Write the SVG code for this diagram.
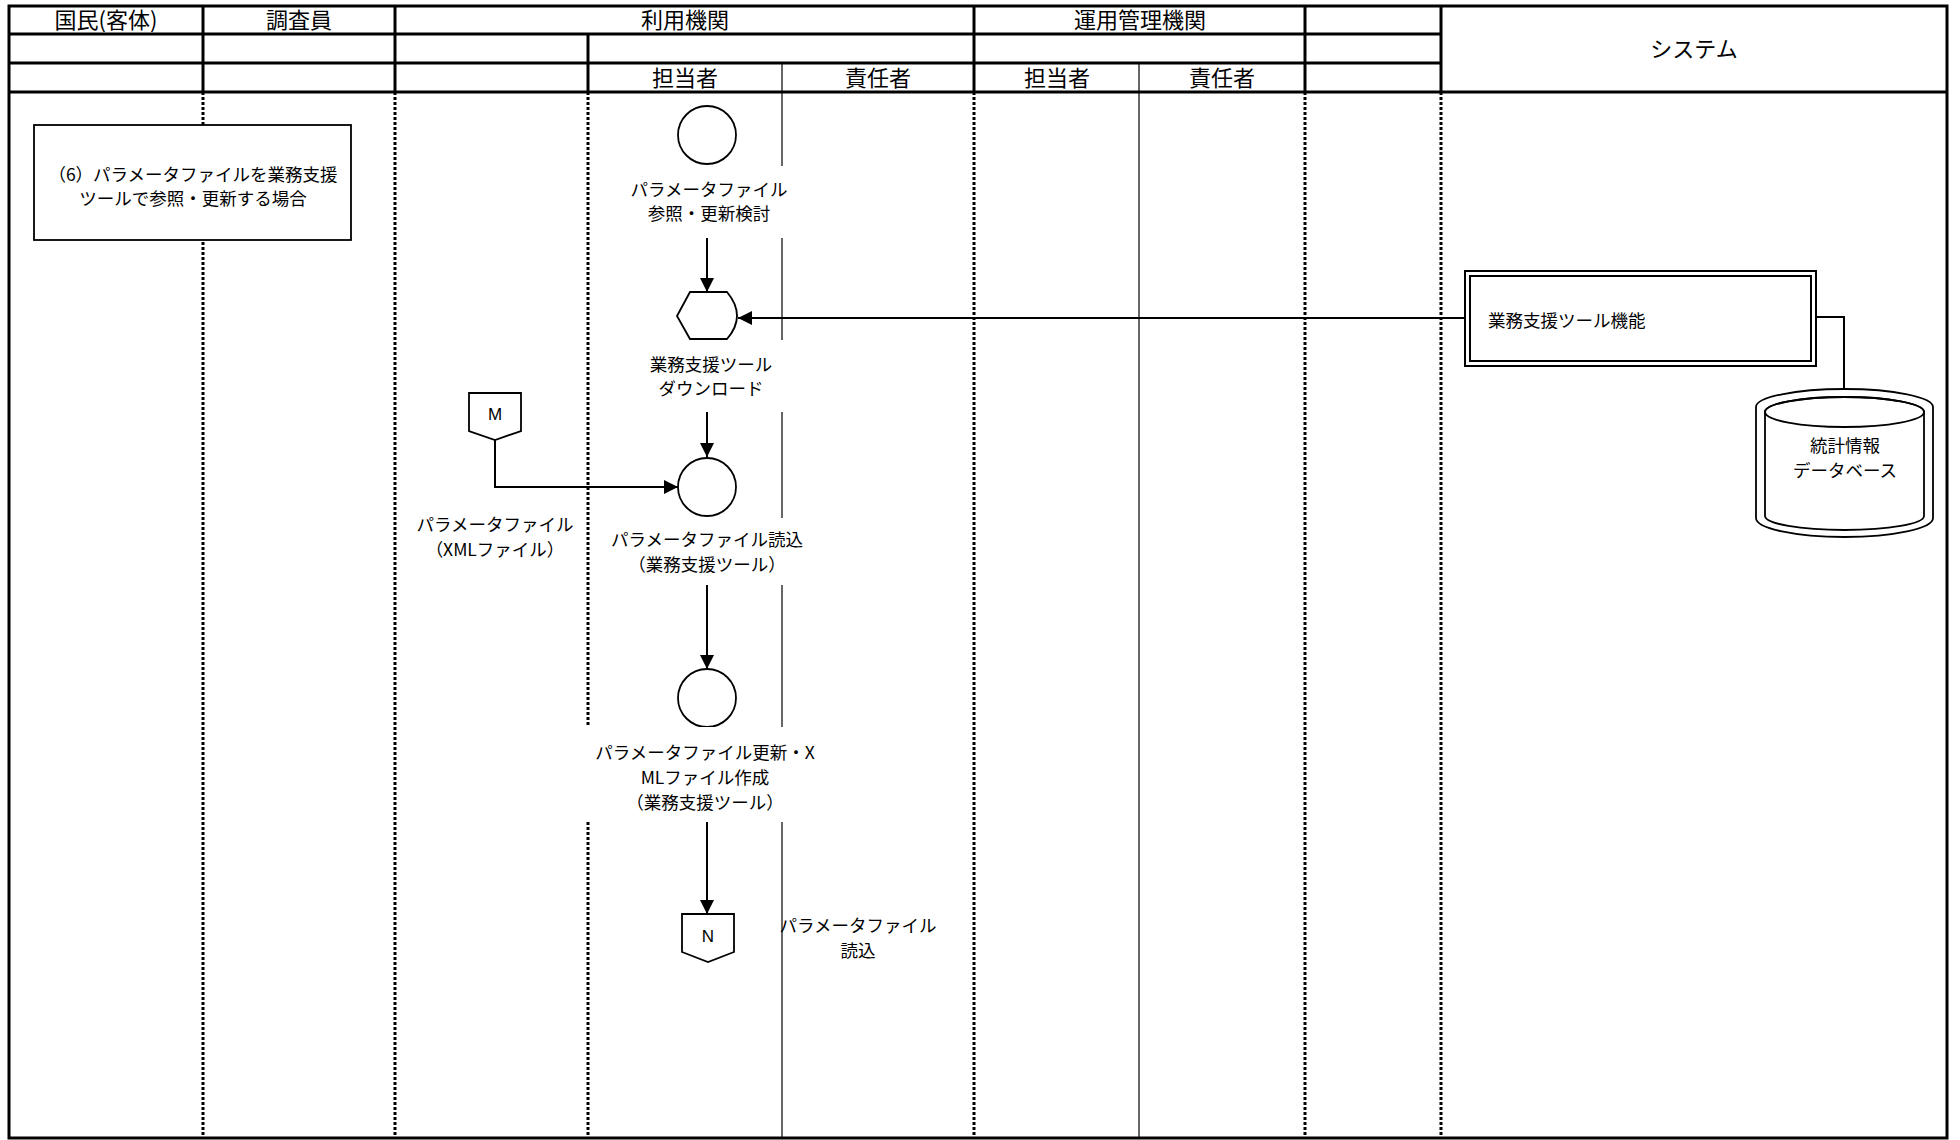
<svg xmlns="http://www.w3.org/2000/svg" width="1960" height="1140" viewBox="0 0 1960 1140">
<style>
  .jp { font-family: "Noto Sans CJK JP", "Noto Sans", sans-serif; fill: #000; }
  .hd { font-size: 22px; text-anchor: middle; }
  .lb { font-size: 17.5px; text-anchor: middle; }
  .lt { font-size: 17.5px; }
  .en { font-family: "Liberation Sans", Arial, sans-serif; font-size: 17px; text-anchor: middle; fill: #000; }
  .thick { stroke: #000; stroke-width: 3; fill: none; }
  .thin { stroke: #000; stroke-width: 1.2; fill: none; }
  .dot { stroke: #000; stroke-width: 3; stroke-dasharray: 3 2; fill: none; }
  .shape { stroke: #000; stroke-width: 1.8; fill: #fff; }
  .conn { stroke: #000; stroke-width: 2; fill: none; }
  .bg { fill: #fff; stroke: none; }
</style>
<defs>
  <marker id="arr" markerUnits="userSpaceOnUse" markerWidth="15" markerHeight="15" refX="14" refY="7" orient="auto">
    <path d="M0,0 L14,7 L0,14 Z" fill="#000"/>
  </marker>
</defs>
<rect x="0" y="0" width="1960" height="1140" fill="#fff"/>

<g id="lanes">
  <line class="dot" x1="203" y1="92" x2="203" y2="1137"/>
  <line class="dot" x1="395" y1="92" x2="395" y2="1137"/>
  <line class="dot" x1="588" y1="92" x2="588" y2="1137"/>
  <line class="thin" x1="782" y1="92" x2="782" y2="1137"/>
  <line class="dot" x1="974" y1="92" x2="974" y2="1137"/>
  <line class="thin" x1="1139" y1="92" x2="1139" y2="1137"/>
  <line class="dot" x1="1305" y1="92" x2="1305" y2="1137"/>
  <line class="dot" x1="1441" y1="92" x2="1441" y2="1137"/>
</g>

<g id="header">
  <line class="thick" x1="9" y1="34" x2="1441" y2="34"/>
  <line class="thick" x1="9" y1="63" x2="1441" y2="63"/>
  <line class="thick" x1="9" y1="92" x2="1947" y2="92"/>
  <line class="thick" x1="203" y1="6" x2="203" y2="92"/>
  <line class="thick" x1="395" y1="6" x2="395" y2="92"/>
  <line class="thick" x1="588" y1="34" x2="588" y2="92"/>
  <line class="thin" x1="782" y1="63" x2="782" y2="92"/>
  <line class="thick" x1="974" y1="6" x2="974" y2="92"/>
  <line class="thin" x1="1139" y1="63" x2="1139" y2="92"/>
  <line class="thick" x1="1305" y1="6" x2="1305" y2="92"/>
  <line class="thick" x1="1441" y1="6" x2="1441" y2="92"/>
  <text class="jp hd" x="106" y="28">国民(客体)</text>
  <text class="jp hd" x="299" y="28">調査員</text>
  <text class="jp hd" x="685" y="28">利用機関</text>
  <text class="jp hd" x="1140" y="28">運用管理機関</text>
  <text class="jp hd" x="685" y="86">担当者</text>
  <text class="jp hd" x="878" y="86">責任者</text>
  <text class="jp hd" x="1057" y="86">担当者</text>
  <text class="jp hd" x="1222" y="86">責任者</text>
  <text class="jp hd" x="1694" y="57">システム</text>
</g>

<rect class="thick" x="9" y="6" width="1938" height="1132"/>

<g id="connectors">
  <line class="conn" x1="707" y1="238" x2="707" y2="292" marker-end="url(#arr)"/>
  <line class="conn" x1="1465" y1="318" x2="738" y2="318" marker-end="url(#arr)"/>
  <line class="conn" x1="707" y1="412" x2="707" y2="457" marker-end="url(#arr)"/>
  <path class="conn" d="M495,440 V487 H678" marker-end="url(#arr)"/>
  <line class="conn" x1="707" y1="585" x2="707" y2="669" marker-end="url(#arr)"/>
  <line class="conn" x1="707" y1="822" x2="707" y2="914" marker-end="url(#arr)"/>
  <path class="conn" d="M1816,317 H1844 V397"/>
</g>

<g id="title">
  <rect x="34" y="125" width="317" height="115" fill="#fff" stroke="#000" stroke-width="1.8"/>
  <text class="jp lb" x="193" y="181">（6）パラメータファイルを業務支援</text>
  <text class="jp lb" x="193" y="205">ツールで参照・更新する場合</text>
</g>

<g id="step1">
  <circle class="shape" cx="707" cy="135" r="29"/>
  <rect class="bg" x="630" y="166" width="160" height="72"/>
  <text class="jp lb" x="709" y="196">パラメータファイル</text>
  <text class="jp lb" x="709" y="220">参照・更新検討</text>
</g>

<g id="step2">
  <path class="shape" d="M677,316 L690,292 L727,292 Q747,316 727,339 L690,339 Z"/>
  <rect class="bg" x="630" y="340" width="160" height="72"/>
  <text class="jp lb" x="711" y="371">業務支援ツール</text>
  <text class="jp lb" x="711" y="395">ダウンロード</text>
</g>

<g id="connectorM">
  <path class="shape" d="M469,393 H521 V431 L495,440 L469,431 Z"/>
  <text class="en" x="495" y="420">M</text>
  <text class="jp lb" x="495" y="531">パラメータファイル</text>
  <text class="jp lb" x="495" y="556">（XMLファイル）</text>
</g>

<g id="step3">
  <circle class="shape" cx="707" cy="487" r="29"/>
  <rect class="bg" x="600" y="518" width="210" height="67"/>
  <text class="jp lb" x="707" y="546">パラメータファイル読込</text>
  <text class="jp lb" x="707" y="571">（業務支援ツール）</text>
</g>

<g id="step4">
  <circle class="shape" cx="707" cy="698" r="29"/>
  <rect class="bg" x="585" y="727" width="240" height="95"/>
  <text class="jp lb" x="705" y="759">パラメータファイル更新・X</text>
  <text class="jp lb" x="705" y="784">MLファイル作成</text>
  <text class="jp lb" x="705" y="809">（業務支援ツール）</text>
</g>

<g id="connectorN">
  <path class="shape" d="M682,914 H734 V952 L708,962 L682,952 Z"/>
  <text class="en" x="708" y="942">N</text>
  <text class="jp lb" x="858" y="932">パラメータファイル</text>
  <text class="jp lb" x="858" y="957">読込</text>
</g>

<g id="toolbox">
  <rect x="1465" y="271" width="351" height="95" fill="#fff" stroke="#000" stroke-width="2"/>
  <rect x="1470" y="276" width="341" height="85" fill="none" stroke="#000" stroke-width="2"/>
  <text class="jp lt" x="1488" y="327">業務支援ツール機能</text>
</g>

<g id="database">
  <path class="shape" d="M1756,407 A88.5,18 0 0 1 1933,407 L1933,518 A88.5,19 0 0 1 1756,518 Z"/>
  <path class="shape" d="M1765,412 A79.5,15 0 0 1 1924,412 L1924,516 A79.5,14 0 0 1 1765,516 Z"/>
  <ellipse cx="1844.5" cy="412" rx="79.5" ry="15" fill="none" stroke="#000" stroke-width="1.8"/>
  <text class="jp lb" x="1845" y="452">統計情報</text>
  <text class="jp lb" x="1845" y="477">データベース</text>
</g>
</svg>
